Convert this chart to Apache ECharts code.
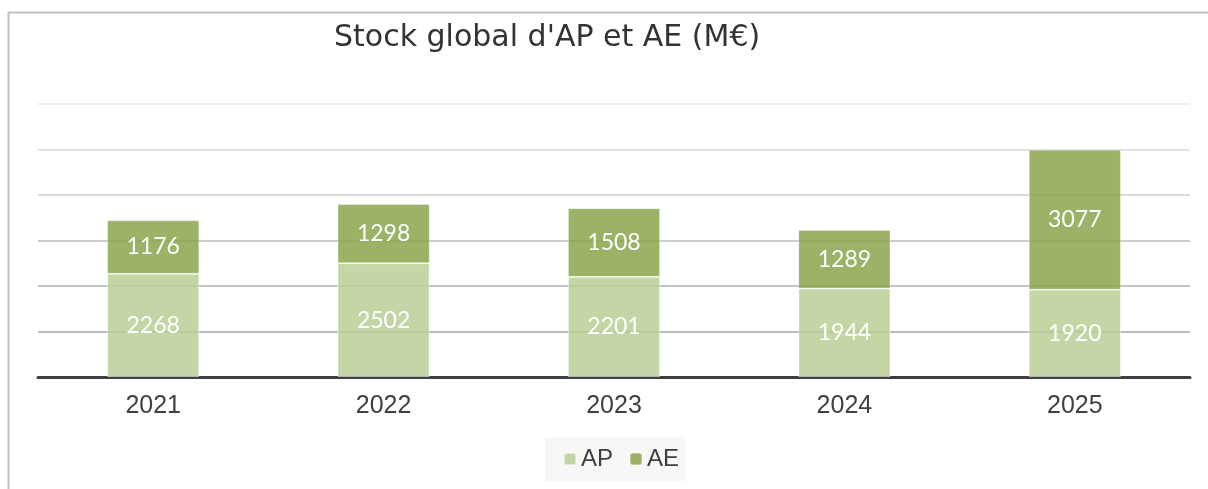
<!DOCTYPE html>
<html>
<head>
<meta charset="utf-8">
<title>Stock global d'AP et AE</title>
<script src="https://cdn.jsdelivr.net/npm/echarts@6/dist/echarts.min.js"></script>
<style>
	html, body { margin: 0; padding: 0; background: #fff; }
	#chart { width: 1208px; height: 489px; }
</style>
</head>
<body>
<div id="chart"></div>
<script>
// données
var years = ['2021', '2022', '2023', '2024', '2025'];
var apValues = [2268, 2502, 2201, 1944, 1920];
var aeValues = [1176, 1298, 1508, 1289, 3077];

// lignes de grille : plus claires vers le haut
var gridColors = ['#a0a0a0', '#a6a6a6', '#b0b0b0', '#bdbdbd', '#cecece', '#dadada', '#e8e8e8'];

var font = 'Lato, "Open Sans", sans-serif';
var narrow = '"Liberation Sans Narrow", "Liberation Sans", Arial, sans-serif';

var myChart = echarts.init(document.getElementById('chart'));

var labelStyle = {
	show : true,
	position : 'inside',
	color : '#fff',
	fontSize : 23,
	fontFamily : font
};

myChart.setOption({
	animation : false,
	title : {
		text : "Stock global d'AP et AE (M€)",
		left : 329,
		top : 18,
		textStyle : {
			color : '#333',
			fontSize : 30,
			fontWeight : 'normal',
			fontFamily : '"DejaVu Sans", sans-serif'
		}
	},
	graphic : [{
		type : 'rect',
		shape : { x : 8.5, y : 12.5, width : 1240, height : 500 },
		style : { fill : 'none', stroke : '#c0c0c0', lineWidth : 2 },
		silent : true,
		z : -1
	}],
	legend : {
		data : ['AP', 'AE'],
		top : 437,
		left : 545,
		itemWidth : 12,
		itemHeight : 12,
		itemGap : 16,
		padding : [10, 6, 10, 18],
		backgroundColor : '#f7f7f7',
		textStyle : {
			color : '#404040',
			fontSize : 24,
			fontFamily : narrow
		}
	},
	grid : {
		left : 38,
		right : 18,
		top : 104,
		bottom : 112,
		containLabel : false
	},
	xAxis : {
		type : 'category',
		data : years,
		axisTick : { show : false },
		axisLine : {
			lineStyle : { color : '#404040', width : 3 }
		},
		axisLabel : {
			color : '#404040',
			fontSize : 25,
			fontFamily : narrow,
			margin : 17
		}
	},
	yAxis : {
		type : 'value',
		min : 0,
		max : 6000,
		interval : 1000,
		axisLabel : { show : false },
		axisLine : { show : false },
		axisTick : { show : false },
		splitLine : {
			lineStyle : { color : gridColors, width : 1.5 }
		}
	},
	series : [{
		name : 'AP',
		type : 'bar',
		stack : 'total',
		barWidth : '40%',
		data : apValues,
		itemStyle : {
			color : 'rgba(187,207,150,0.85)',
			borderColor : 'rgba(255,255,255,0.45)',
			borderWidth : 1
		},
		label : labelStyle
	}, {
		name : 'AE',
		type : 'bar',
		stack : 'total',
		barWidth : '40%',
		data : aeValues,
		itemStyle : {
			color : 'rgba(137,164,76,0.85)',
			borderColor : 'rgba(255,255,255,0.3)',
			borderWidth : 1
		},
		label : labelStyle
	}]
});
</script>
</body>
</html>
